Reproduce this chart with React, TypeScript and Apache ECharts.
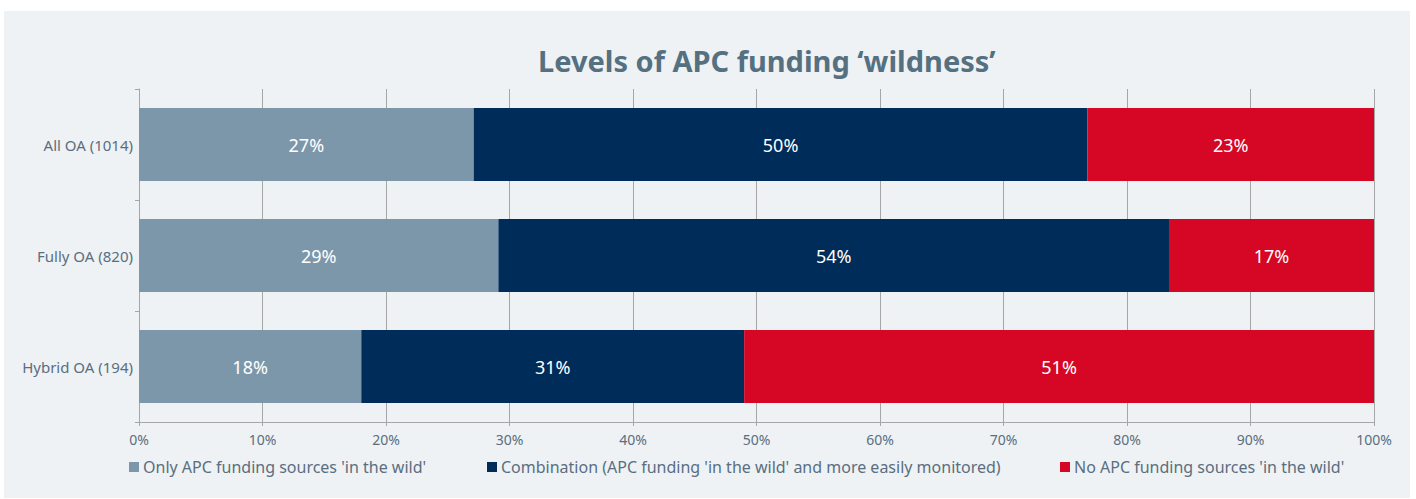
import React, { useEffect, useRef } from "react";
import * as echarts from "echarts";

const categories = ["All OA (1014)", "Fully OA (820)", "Hybrid OA (194)"];
const seriesNames = [
  "Only APC funding sources 'in the wild'",
  "Combination (APC funding 'in the wild' and more easily monitored)",
  "No APC funding sources 'in the wild'",
];
const onlyWild = [27.1, 29.1, 18.0];
const combination = [49.7, 54.3, 31.0];
const noWild = [23.2, 16.6, 51.0];
const xTicks = [0, 10, 20, 30, 40, 50, 60, 70, 80, 90, 100];

const colors = ["#7d97aa", "#002c5a", "#d50725"];
const textColor = "#5a6e80";
const font = "'Noto Sans', sans-serif";

export default function App() {
  const ref = useRef<HTMLDivElement>(null);
  useEffect(() => {
    document.body.style.margin = "0";
    if (!ref.current) return;
    const chart = echarts.init(ref.current, null, { renderer: "svg" });
    const values = [onlyWild, combination, noWild];
    const legendLefts = [125, 483, 1056];
    chart.setOption({
      animation: false,
      backgroundColor: "#eef2f5",
      textStyle: { fontFamily: font },
      title: {
        text: "Levels of APC funding \u2018wildness\u2019",
        left: 534,
        top: 35,
        padding: 0,
        textStyle: { fontSize: 29, fontWeight: "bold", color: "#557080", fontFamily: font },
      },
      legend: seriesNames.map((n, i) => ({
        data: [n],
        left: legendLefts[i],
        top: 448,
        padding: 0,
        icon: "rect",
        itemWidth: 10,
        itemHeight: 10,
        itemGap: 4,
        textStyle: { fontSize: 16, color: textColor, fontFamily: font, padding: [0, 0, 0, -1] },
      })),
      grid: { left: 135, right: 36, top: 78, bottom: 76, containLabel: false },
      xAxis: {
        type: "value",
        min: xTicks[0],
        max: xTicks[xTicks.length - 1],
        interval: 10,
        axisLine: { show: true, lineStyle: { color: "#a6a6a6" } },
        axisTick: { show: true, length: 4, lineStyle: { color: "#a6a6a6" } },
        splitLine: { show: true, lineStyle: { color: "#a6a6a6" } },
        axisLabel: { formatter: "{value}%", color: textColor, fontSize: 14, margin: 10, fontFamily: font },
      },
      yAxis: {
        type: "category",
        data: categories,
        inverse: true,
        axisLine: { show: true, lineStyle: { color: "#a6a6a6" } },
        axisTick: { show: true, length: 4, lineStyle: { color: "#a6a6a6" } },
        axisLabel: { color: textColor, fontSize: 15, margin: 6, fontFamily: font },
      },
      series: seriesNames.map((n, i) => ({
        name: n,
        type: "bar",
        stack: "total",
        barWidth: 73,
        data: values[i],
        itemStyle: { color: colors[i] },
        label: {
          show: true,
          position: "inside",
          color: "#ffffff",
          fontSize: 18,
          fontFamily: font,
          formatter: (p: any) => Math.round(p.value) + "%",
        },
      })),
    });
    return () => chart.dispose();
  }, []);
  return (
    <div style={{ position: "relative", width: 1416, height: 499, background: "#ffffff" }}>
      <div ref={ref} style={{ position: "absolute", left: 4, top: 11, width: 1406, height: 487 }} />
    </div>
  );
}
